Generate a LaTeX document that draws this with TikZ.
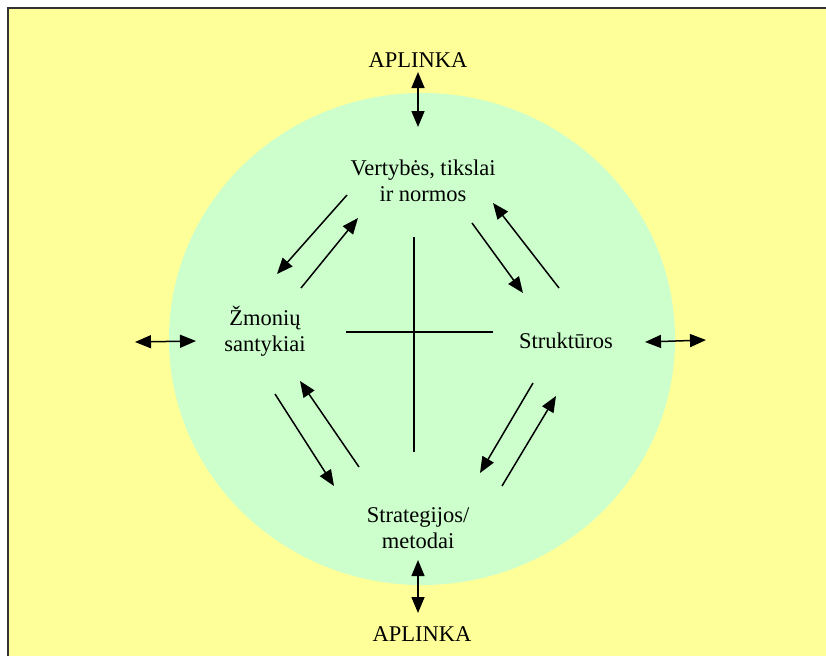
\documentclass[tikz,border=0pt]{standalone}
\usepackage{fontspec}
\setmainfont{Liberation Serif}
\usetikzlibrary{arrows.meta}
\definecolor{bgyellow}{HTML}{FFFF99}
\definecolor{circgreen}{HTML}{CCFFCC}
\tikzset{
  lbl/.style={align=center, inner sep=0pt, font=\fontsize{22.5}{26}\selectfont},
  arr/.style={line width=1.5pt, -{Triangle[length=16pt,width=13pt]}},
  dbl/.style={line width=1.5pt, {Triangle[length=16pt,width=13pt]}-{Triangle[length=16pt,width=13pt]}},
  plain/.style={line width=1.5pt},
}
\begin{document}
\begin{tikzpicture}[x=1pt,y=-1pt]
\useasboundingbox (0,0) rectangle (826,656);
\fill[white] (0,0) rectangle (826,656);
\fill[bgyellow] (8,8) rectangle (826,656);
\draw[line width=2pt, black!80] (8,656) -- (8,8) -- (826,8);
\fill[circgreen] (422,339) ellipse [x radius=253, y radius=246];

% texts
\node[lbl] (envtop) at (418,60) {APLINKA};
\node[lbl] (envbot) at (422,634) {APLINKA};
\node[lbl] (vert) at (423,181) {Vertybės, tikslai\\ir normos};
\node[lbl] (zmon) at (265,331) {Žmonių\\santykiai};
\node[lbl] (strk) at (566,341) {Struktūros};
\node[lbl] (strat) at (418,528) {Strategijos/\\metodai};

% environment arrows
\coordinate (t1) at (418,72); \coordinate (t2) at (418,127);
\coordinate (b1) at (418,560); \coordinate (b2) at (418,613);
\coordinate (l1) at (135,342); \coordinate (l2) at (196,341);
\coordinate (r1) at (645,342); \coordinate (r2) at (706,340);
\draw[dbl] (t1) -- (t2);
\draw[dbl] (b1) -- (b2);
\draw[dbl] (l1) -- (l2);
\draw[dbl] (r1) -- (r2);

% cross
\coordinate (cv1) at (414,237); \coordinate (cv2) at (414,452);
\coordinate (ch1) at (346,332); \coordinate (ch2) at (493,332);
\draw[plain] (cv1) -- (cv2);
\draw[plain] (ch1) -- (ch2);

% upper-left pair
\coordinate (a1s) at (347,195); \coordinate (a1e) at (277,274);
\coordinate (a2s) at (301,288); \coordinate (a2e) at (358,218);
\draw[arr] (a1s) -- (a1e);
\draw[arr] (a2s) -- (a2e);
% upper-right pair
\coordinate (a3s) at (472,223); \coordinate (a3e) at (523,293);
\coordinate (a4s) at (559,288); \coordinate (a4e) at (493,203);
\draw[arr] (a3s) -- (a3e);
\draw[arr] (a4s) -- (a4e);
% lower-left pair
\coordinate (a5s) at (275,394); \coordinate (a5e) at (334,486);
\coordinate (a6s) at (359,467); \coordinate (a6e) at (300,381);
\draw[arr] (a5s) -- (a5e);
\draw[arr] (a6s) -- (a6e);
% lower-right pair
\coordinate (a7s) at (533,383); \coordinate (a7e) at (480,473);
\coordinate (a8s) at (502,486); \coordinate (a8e) at (556,396);
\draw[arr] (a7s) -- (a7e);
\draw[arr] (a8s) -- (a8e);
\end{tikzpicture}
\end{document}
